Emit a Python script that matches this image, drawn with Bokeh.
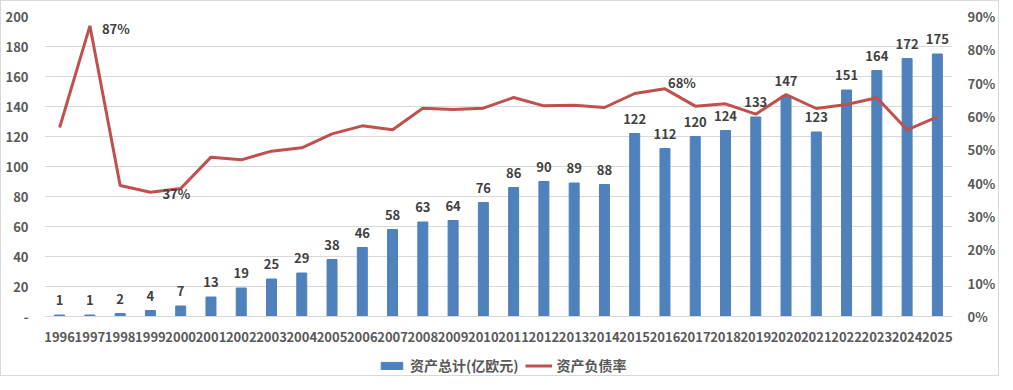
from bokeh.plotting import figure
from bokeh.layouts import column
from bokeh.models import (Range1d, LinearAxis, FixedTicker, NumeralTickFormatter,
                          Legend, LegendItem, ColumnDataSource)
from bokeh.core.properties import value
from bokeh.embed import file_html
from bokeh.resources import INLINE

years = [str(y) for y in range(1996, 2026)]
assets = [1, 1, 2, 4, 7, 13, 19, 25, 29, 38, 46, 58, 63, 64, 76, 86, 90, 89, 88,
          122, 112, 120, 124, 133, 147, 123, 151, 164, 172, 175]
ratio = [0.567, 0.872, 0.393, 0.373, 0.384, 0.478, 0.470, 0.496, 0.506, 0.548,
         0.572, 0.560, 0.625, 0.621, 0.625, 0.657, 0.632, 0.634, 0.627, 0.669,
         0.683, 0.631, 0.638, 0.607, 0.666, 0.624, 0.636, 0.656, 0.560, 0.599]
ratio_label_years = ["1997", "1999", "2016"]
left_ticks = [0, 20, 40, 60, 80, 100, 120, 140, 160, 180, 200]
right_ticks = [0, 0.1, 0.2, 0.3, 0.4, 0.5, 0.6, 0.7, 0.8, 0.9]
bar_name = "资产总计(亿欧元)"
line_name = "资产负债率"

FONT = "Noto Sans CJK SC"
BAR_C = "#4F81BD"
LINE_C = "#C0504D"
GRID_C = "#D9D9D9"
TICK_C = "#595959"
LABEL_C = "#404040"

src = ColumnDataSource(dict(year=years, assets=assets, ratio=ratio,
                            alabel=[str(a) for a in assets]))

p = figure(width=997, height=345, x_range=years, y_range=Range1d(0, 200),
           output_backend="svg", toolbar_location=None,
           min_border_left=43, min_border_right=36, min_border_top=15,
           min_border_bottom=30)
p.extra_y_ranges = {"ratio": Range1d(0, 0.9)}
p.outline_line_color = None
p.background_fill_color = "white"
p.border_fill_color = "white"

p.xgrid.grid_line_color = None
p.ygrid.grid_line_color = GRID_C
p.ygrid.ticker = FixedTicker(ticks=left_ticks)

bars = p.vbar(x="year", top="assets", width=0.33, source=src, color=BAR_C)
line = p.line(x="year", y="ratio", source=src, y_range_name="ratio",
              line_color=LINE_C, line_width=3)

p.text(x="year", y="assets", text="alabel", source=src, text_align="center",
       text_baseline="bottom", y_offset=-10, text_font=value(FONT),
       text_font_size="13px", text_font_style="bold", text_color=LABEL_C)

offsets = {"1997": (12, 3), "1999": (12, 1), "2016": (3, -6)}
for yr in ratio_label_years:
    i = years.index(yr)
    dx, dy = offsets[yr]
    p.text(x=[yr], y=[ratio[i]], text=[f"{round(ratio[i]*100)}%"],
           y_range_name="ratio", text_align="left", text_baseline="middle",
           x_offset=dx, y_offset=dy, text_font=value(FONT),
           text_font_size="13px", text_font_style="bold", text_color=LABEL_C)

ya = p.yaxis[0]
ya.ticker = FixedTicker(ticks=left_ticks)
ya.major_label_overrides = {0: "-"}
xa = p.xaxis[0]
for ax in (ya, xa):
    ax.axis_line_color = None
    ax.major_tick_line_color = None
    ax.minor_tick_line_color = None
    ax.major_label_text_font = FONT
    ax.major_label_text_font_size = "13px"
    ax.major_label_text_font_style = "bold"
    ax.major_label_text_color = TICK_C
ya.major_label_standoff = 10
xa.major_label_standoff = 9
xa.axis_line_color = GRID_C

ra = LinearAxis(y_range_name="ratio", ticker=FixedTicker(ticks=right_ticks),
                formatter=NumeralTickFormatter(format="0%"))
ra.axis_line_color = None
ra.major_tick_line_color = None
ra.minor_tick_line_color = None
ra.major_label_text_font = FONT
ra.major_label_text_font_size = "13px"
ra.major_label_text_font_style = "bold"
ra.major_label_text_color = TICK_C
ra.major_label_standoff = 9
p.add_layout(ra, "right")

# legend strip (series drawn from the same data, but far outside its visible range)
lg = figure(width=997, height=29, x_range=years, y_range=Range1d(5000, 5001),
            output_backend="svg", toolbar_location=None,
            x_axis_type=None, y_axis_type=None,
            min_border_left=0, min_border_right=0, min_border_top=0,
            min_border_bottom=0)
lg.grid.visible = False
lg.outline_line_color = None
lg.background_fill_color = "white"
lg.border_fill_color = "white"
lbar = lg.vbar(x="year", top="assets", bottom="assets", width=0.33, source=src,
               color=BAR_C)
lline = lg.line(x="year", y="ratio", source=src, line_color=LINE_C, line_width=3)

legend = Legend(items=[LegendItem(label=bar_name, renderers=[lbar]),
                       LegendItem(label=line_name, renderers=[lline])],
                location=(334, 0), orientation="horizontal",
                padding=0, margin=0, spacing=6, label_standoff=5,
                glyph_width=27, glyph_height=9, label_height=16,
                label_text_font=FONT, label_text_font_size="14px",
                label_text_font_style="bold", label_text_color=TICK_C,
                border_line_color=None, background_fill_alpha=0)
lg.add_layout(legend, "center")

layout = column(p, lg, spacing=0, styles={"border": "1px solid #D9D9D9"})

open("out.html", "w").write(file_html(layout, INLINE))
